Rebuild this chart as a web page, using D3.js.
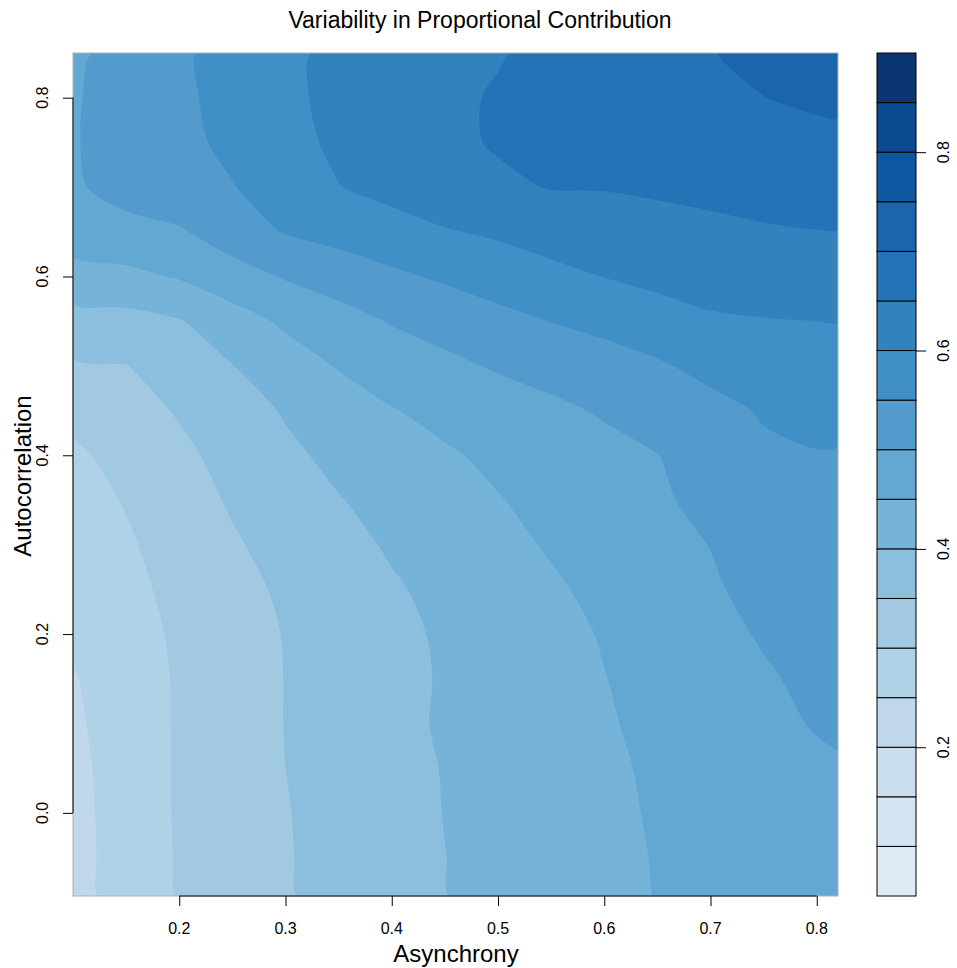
<!DOCTYPE html>
<html>
<head>
<meta charset="utf-8">
<script src="https://cdn.jsdelivr.net/npm/d3@7"></script>
<style>
  body { margin: 0; background: #fff; }
  svg { font-family: "Liberation Sans", Arial, sans-serif; }
</style>
</head>
<body>
<div id="chart"></div>
<script>
// grid of the fitted surface
const asynchrony = [0.10, 0.15, 0.20, 0.25, 0.30, 0.35, 0.40, 0.45, 0.50, 0.55, 0.60, 0.65, 0.70, 0.75, 0.80, 0.82];
const autocorrelation = [-0.093, -0.05, 0.00, 0.05, 0.10, 0.15, 0.20, 0.25, 0.30, 0.35, 0.40, 0.45, 0.50, 0.55, 0.60, 0.65, 0.70, 0.75, 0.80, 0.85];

// one row per autocorrelation value, bottom row first
const contribution = [
  [0.233, 0.269, 0.303, 0.324, 0.346, 0.364, 0.381, 0.399, 0.412, 0.425, 0.438, 0.451, 0.459, 0.467, 0.476, 0.480],
  [0.234, 0.270, 0.304, 0.325, 0.347, 0.365, 0.382, 0.3995, 0.413, 0.426, 0.440, 0.452, 0.461, 0.470, 0.479, 0.483],
  [0.235, 0.271, 0.305, 0.326, 0.348, 0.366, 0.384, 0.401, 0.414, 0.428, 0.441, 0.454, 0.464, 0.475, 0.486, 0.490],
  [0.237, 0.273, 0.305, 0.328, 0.350, 0.368, 0.385, 0.402, 0.416, 0.429, 0.443, 0.456, 0.468, 0.480, 0.492, 0.497],
  [0.242, 0.274, 0.305, 0.328, 0.351, 0.369, 0.388, 0.405, 0.418, 0.432, 0.446, 0.460, 0.474, 0.489, 0.503, 0.504],
  [0.247, 0.276, 0.305, 0.328, 0.351, 0.369, 0.387, 0.404, 0.419, 0.434, 0.449, 0.464, 0.480, 0.495, 0.510, 0.511],
  [0.257, 0.282, 0.307, 0.330, 0.352, 0.370, 0.389, 0.406, 0.421, 0.437, 0.453, 0.470, 0.487, 0.504, 0.518, 0.519],
  [0.265, 0.288, 0.312, 0.336, 0.357, 0.376, 0.395, 0.412, 0.428, 0.444, 0.461, 0.477, 0.494, 0.515, 0.525, 0.526],
  [0.272, 0.294, 0.320, 0.345, 0.366, 0.386, 0.405, 0.422, 0.438, 0.454, 0.470, 0.485, 0.501, 0.525, 0.533, 0.533],
  [0.281, 0.303, 0.330, 0.355, 0.377, 0.398, 0.415, 0.431, 0.448, 0.463, 0.478, 0.492, 0.515, 0.533, 0.540, 0.540],
  [0.292, 0.315, 0.340, 0.365, 0.391, 0.411, 0.428, 0.445, 0.459, 0.472, 0.486, 0.499, 0.520, 0.542, 0.548, 0.547],
  [0.310, 0.331, 0.354, 0.379, 0.404, 0.426, 0.448, 0.462, 0.476, 0.490, 0.505, 0.521, 0.537, 0.554, 0.562, 0.562],
  [0.344, 0.349, 0.371, 0.399, 0.427, 0.453, 0.471, 0.489, 0.505, 0.518, 0.532, 0.545, 0.562, 0.577, 0.582, 0.582],
  [0.380, 0.384, 0.397, 0.429, 0.458, 0.481, 0.503, 0.519, 0.536, 0.551, 0.562, 0.576, 0.594, 0.598, 0.600, 0.601],
  [0.431, 0.438, 0.454, 0.480, 0.504, 0.523, 0.541, 0.557, 0.572, 0.587, 0.601, 0.614, 0.619, 0.622, 0.625, 0.625],
  [0.474, 0.486, 0.495, 0.525, 0.553, 0.567, 0.582, 0.597, 0.607, 0.621, 0.631, 0.638, 0.642, 0.646, 0.649, 0.649],
  [0.494, 0.516, 0.532, 0.548, 0.573, 0.599, 0.614, 0.628, 0.642, 0.652, 0.652, 0.655, 0.659, 0.665, 0.669, 0.670],
  [0.497, 0.518, 0.538, 0.560, 0.586, 0.608, 0.624, 0.640, 0.654, 0.658, 0.664, 0.669, 0.675, 0.681, 0.687, 0.689],
  [0.496, 0.518, 0.541, 0.565, 0.592, 0.610, 0.626, 0.641, 0.654, 0.663, 0.672, 0.681, 0.691, 0.6995, 0.708, 0.709],
  [0.491, 0.516, 0.542, 0.567, 0.592, 0.609, 0.622, 0.634, 0.647, 0.659, 0.672, 0.685, 0.698, 0.711, 0.723, 0.728]
];

const levels = [0.05, 0.10, 0.15, 0.20, 0.25, 0.30, 0.35, 0.40, 0.45, 0.50, 0.55, 0.60, 0.65, 0.70, 0.75, 0.80, 0.85, 0.90];
const levelColors = ["#deebf7", "#d3e4f3", "#cadef0", "#c0d7ec", "#b0d2e7", "#a1c9e1", "#8cbfdd", "#75b3d8", "#63a8d3",
  "#529bcc", "#4090c7", "#3282be", "#2473b6", "#1a65ac", "#0f58a1", "#094a91", "#0a3772"];

const xTicks = [0.2, 0.3, 0.4, 0.5, 0.6, 0.7, 0.8];
const yTicks = [0.0, 0.2, 0.4, 0.6, 0.8];
const legendTicks = [0.2, 0.4, 0.6, 0.8];

const width = 957, height = 968;
const plot = {left: 73, right: 838, top: 53, bottom: 896};
const key = {left: 877, right: 916};

const svg = d3.select("#chart").append("svg")
    .attr("width", width)
    .attr("height", height);

const x = d3.scaleLinear().domain([0.10, 0.82]).range([plot.left, plot.right]);
const y = d3.scaleLinear().domain([-0.093, 0.85]).range([plot.bottom, plot.top]);

// contour grid coords -> data coords (samples sit at i + 0.5)
const gx = d3.scaleLinear().domain(asynchrony.map((d, i) => i + 0.5)).range(asynchrony).clamp(true);
const gy = d3.scaleLinear().domain(autocorrelation.map((d, i) => i + 0.5)).range(autocorrelation).clamp(true);

const bands = d3.contours()
    .size([asynchrony.length, autocorrelation.length])
    .thresholds(levels.slice(0, -1))(contribution.flat());

// smooth the marching-squares rings a bit, like R's filled.contour look
const ring = d3.line().curve(d3.curveCatmullRomClosed.alpha(0.5));
function bandPath(band) {
    return band.coordinates.map(polygon =>
        polygon.map(r => ring(r.slice(0, -1).map(p => [x(gx(p[0])), y(gy(p[1]))]))).join("")
    ).join("");
}

svg.append("clipPath").attr("id", "plot-clip")
  .append("rect")
    .attr("x", plot.left).attr("y", plot.top)
    .attr("width", plot.right - plot.left).attr("height", plot.bottom - plot.top);

const field = svg.append("g").attr("clip-path", "url(#plot-clip)");
field.append("rect")
    .attr("x", plot.left).attr("y", plot.top)
    .attr("width", plot.right - plot.left).attr("height", plot.bottom - plot.top)
    .attr("fill", levelColors[0]);
field.selectAll("path")
  .data(bands)
  .join("path")
    .attr("d", bandPath)
    .attr("fill", (d, i) => levelColors[i]);

svg.append("rect")
    .attr("x", plot.left).attr("y", plot.top)
    .attr("width", plot.right - plot.left).attr("height", plot.bottom - plot.top)
    .attr("fill", "none").attr("stroke", "#b0b0b0").attr("stroke-width", 1);

// axes, R style: line only between first and last tick
const xAxis = svg.append("g")
    .attr("transform", `translate(0,${plot.bottom})`)
    .call(d3.axisBottom(x).tickValues(xTicks).tickSize(10).tickFormat(""));
xAxis.select(".domain").remove();
xAxis.append("line")
    .attr("x1", x(xTicks[0])).attr("x2", x(xTicks[xTicks.length - 1]));
xAxis.selectAll("line").attr("stroke", "#000");
svg.append("g").selectAll("text")
  .data(xTicks)
  .join("text")
    .attr("x", d => x(d))
    .attr("y", 934)
    .attr("text-anchor", "middle")
    .attr("font-size", 16)
    .text(d3.format(".1f"));

const yAxis = svg.append("g")
    .attr("transform", `translate(${plot.left},0)`)
    .call(d3.axisLeft(y).tickValues(yTicks).tickSize(10).tickFormat(""));
yAxis.select(".domain").remove();
yAxis.append("line")
    .attr("y1", y(yTicks[0])).attr("y2", y(yTicks[yTicks.length - 1]));
yAxis.selectAll("line").attr("stroke", "#000");
svg.append("g").selectAll("text")
  .data(yTicks)
  .join("text")
    .attr("transform", d => `translate(48,${y(d)}) rotate(-90)`)
    .attr("text-anchor", "middle")
    .attr("font-size", 16)
    .text(d3.format(".1f"));

svg.append("text")
    .attr("x", 456)
    .attr("y", 962)
    .attr("text-anchor", "middle")
    .attr("font-size", 24)
    .text("Asynchrony");

svg.append("text")
    .attr("transform", `translate(31,476) rotate(-90)`)
    .attr("text-anchor", "middle")
    .attr("font-size", 24)
    .text("Autocorrelation");

svg.append("text")
    .attr("x", 480)
    .attr("y", 28)
    .attr("text-anchor", "middle")
    .attr("font-size", 23)
    .text("Variability in Proportional Contribution");

// colour key
const yl = d3.scaleLinear().domain([levels[0], levels[levels.length - 1]]).range([plot.bottom, plot.top]);

svg.append("g")
  .selectAll("rect")
  .data(levelColors)
  .join("rect")
    .attr("x", key.left)
    .attr("y", (d, i) => yl(levels[i + 1]))
    .attr("width", key.right - key.left)
    .attr("height", (d, i) => yl(levels[i]) - yl(levels[i + 1]))
    .attr("fill", d => d)
    .attr("stroke", "#000")
    .attr("stroke-width", 1);

const keyAxis = svg.append("g")
    .attr("transform", `translate(${key.right},0)`)
    .call(d3.axisRight(yl).tickValues(legendTicks).tickSize(10).tickFormat(""));
keyAxis.select(".domain").remove();
keyAxis.selectAll("line").attr("stroke", "#000");
svg.append("g").selectAll("text")
  .data(legendTicks)
  .join("text")
    .attr("transform", d => `translate(949,${yl(d)}) rotate(-90)`)
    .attr("text-anchor", "middle")
    .attr("font-size", 16)
    .text(d3.format(".1f"));
</script>
</body>
</html>
